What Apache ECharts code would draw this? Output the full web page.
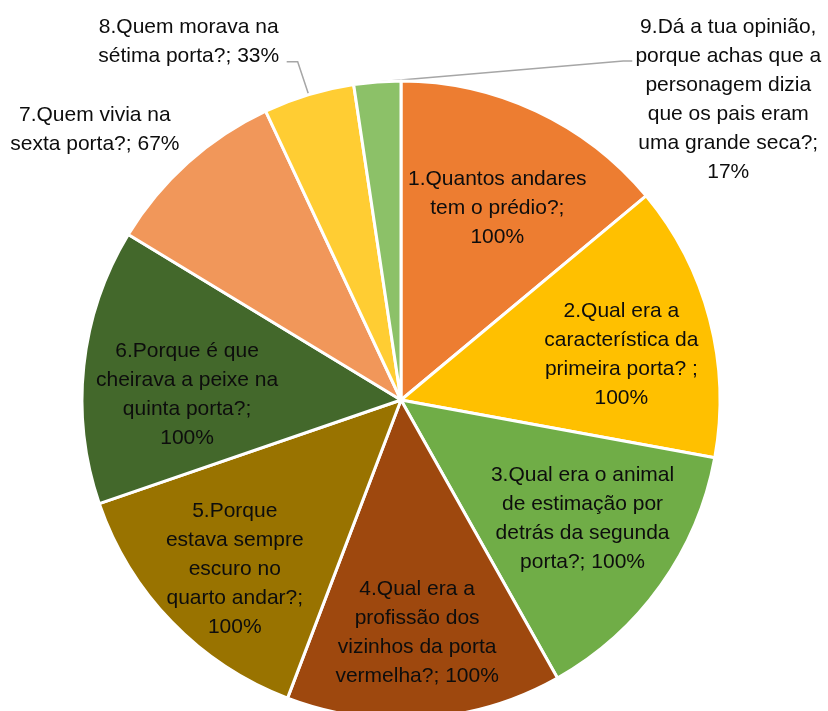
<!DOCTYPE html>
<html>
<head>
<meta charset="utf-8">
<script src="https://cdn.jsdelivr.net/npm/echarts@6/dist/echarts.min.js"></script>
<style>
html,body{margin:0;padding:0;background:#fff}
#chart{width:828px;height:711px}
</style>
</head>
<body>
<div id="chart"></div>
<script>
// categorias (com as quebras de linha do gráfico original)
var categories = [
	'1.Quantos andares\ntem o prédio?',
	'2.Qual era a\ncaracterística da\nprimeira porta? ',
	'3.Qual era o animal\nde estimação por\ndetrás da segunda\nporta?',
	'4.Qual era a\nprofissão dos\nvizinhos da porta\nvermelha?',
	'5.Porque\nestava sempre\nescuro no\nquarto andar?',
	'6.Porque é que\ncheirava a peixe na\nquinta porta?',
	'7.Quem vivia na\nsexta porta?',
	'8.Quem morava na\nsétima porta?',
	'9.Dá a tua opinião,\nporque achas que a\npersonagem dizia\nque os pais eram\numa grande seca?'
];
var values = [100, 100, 100, 100, 100, 100, 67, 33, 17];
// separador entre o nome e o valor
var joiners = ['\n', '\n', ' ', ' ', '\n', '\n', ' ', ' ', '\n'];
var colors = ['#ED7D31', '#FFC000', '#70AD47', '#9E480E', '#997300', '#43682B', '#F1975A', '#FFCD33', '#8CC168'];

var FONT = 'Liberation Sans';
var CENTER = [401, 400];
var R = 319;

// rótulos interiores: distância ao centro e pequeno desvio angular (graus)
var labelDist = [215, 225, 217, 233, 237, 214];
var labelTurn = [1.5, 3, -2.3, 0.3, -1.4, -4.7];

function labelText(i){
	return categories[i] + ';' + joiners[i] + values[i] + '%';
}

var pieData = [];
for (var i = 0; i < values.length; i++){
	pieData.push({
		name: categories[i],
		value: values[i],
		itemStyle: { color: colors[i] },
		labelLine: { lineStyle: { opacity: (i == 7 || i == 8) ? 1 : 0 } }
	});
}

var myChart = echarts.init(document.getElementById('chart'));
var option = {
	backgroundColor: '#fff',
	animation: false,
	series: [
		{
			type: 'pie',
			center: CENTER,
			radius: R,
			startAngle: 90,
			clockwise: true,
			avoidLabelOverlap: false,
			silent: true,
			data: pieData,
			itemStyle: { borderColor: '#fff', borderWidth: 3 },
			label: {
				position: 'outside',
				formatter: function(p){ return labelText(p.dataIndex); },
				fontFamily: FONT,
				fontSize: 21,
				lineHeight: 29,
				color: '#0d0d0d',
				align: 'center'
			},
			labelLine: {
				length: 15,
				length2: 10,
				lineStyle: { color: '#a6a6a6', width: 1.5 }
			},
			//posição dos rótulos calculada a partir do ponto da fatia na borda
			labelLayout: function(p){
				var a = p.labelLinePoints && p.labelLinePoints[0];
				if (!a) return;
				var k = p.dataIndex;
				if (k < 6){
					var vx = (a[0] - CENTER[0]) / R;
					var vy = (a[1] - CENTER[1]) / R;
					var t = labelTurn[k] * Math.PI / 180;
					var rx = vx * Math.cos(t) - vy * Math.sin(t);
					var ry = vx * Math.sin(t) + vy * Math.cos(t);
					return {
						x: CENTER[0] + rx * labelDist[k],
						y: CENTER[1] + ry * labelDist[k],
						align: 'center', verticalAlign: 'middle',
						labelLinePoints: [a, a, a]
					};
				}
				if (k == 6){
					return { x: a[0] - 93, y: a[1] - 33, align: 'center', verticalAlign: 'middle', labelLinePoints: [a, a, a] };
				}
				if (k == 7){
					return { x: a[0] - 120, y: a[1] - 53, align: 'center', verticalAlign: 'middle',
						labelLinePoints: [a, [a[0] - 11, a[1] - 33], [a[0] - 22, a[1] - 33]] };
				}
				if (k == 8){
					return { x: a[0] + 351, y: a[1] + 18, align: 'center', verticalAlign: 'middle',
						labelLinePoints: [a, [a[0] + 246, a[1] - 21], [a[0] + 255, a[1] - 21]] };
				}
			}
		}
	]
};
myChart.setOption(option);
</script>
</body>
</html>
